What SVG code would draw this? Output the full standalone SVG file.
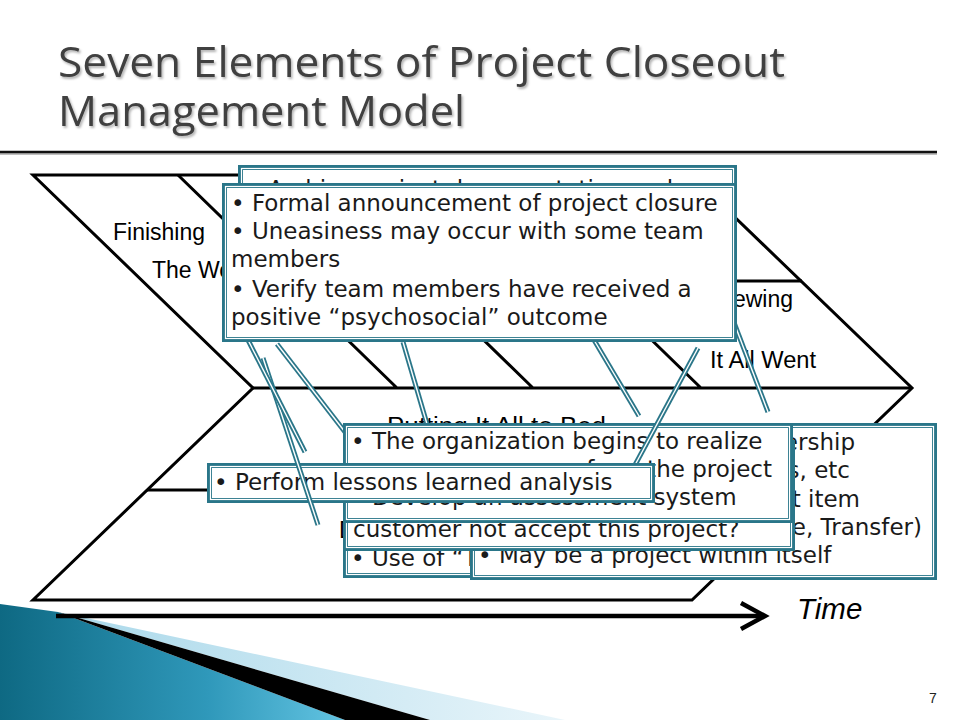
<svg xmlns="http://www.w3.org/2000/svg" width="960" height="720" viewBox="0 0 960 720">
<defs>
<style>
.fb{fill:none;stroke:#000;stroke-width:3;stroke-linejoin:miter}
.lb{font-family:"Liberation Sans",Arial,sans-serif;font-size:23px;fill:#000}
.co{font-family:"DejaVu Sans",sans-serif;font-size:23px;fill:#1a1a1a}
.bo{fill:#fff;stroke:#2a7689;stroke-width:5}
.bi{fill:none;stroke:#fff;stroke-width:1.2}
.tl{stroke:#2a7689;stroke-width:5;stroke-linecap:butt}
.tw{stroke:#fff;stroke-width:1.4}
.ttl{font-family:"Open Sans","Noto Sans",sans-serif;font-size:42px;fill:#404040}
</style>
<filter id="sh" x="-5%" y="-20%" width="110%" height="150%">
<feDropShadow dx="1.5" dy="2" stdDeviation="1" flood-color="#000" flood-opacity="0.3"/>
</filter>
<linearGradient id="tealg" x1="0" y1="0" x2="1" y2="0">
<stop offset="0" stop-color="#0e6983"/>
<stop offset="0.6" stop-color="#2f98ba"/>
<stop offset="1" stop-color="#63c4e2"/>
</linearGradient>
<linearGradient id="paleg" x1="0" y1="0" x2="1" y2="0">
<stop offset="0" stop-color="#a9d8ea"/>
<stop offset="1" stop-color="#e9f5fa"/>
</linearGradient>
</defs>
<rect width="960" height="720" fill="#fff"/>

<g id="title" filter="url(#sh)">
<text class="ttl" x="58" y="77" textLength="727" lengthAdjust="spacingAndGlyphs">Seven Elements of Project Closeout</text>
<text class="ttl" x="58" y="126" textLength="407" lengthAdjust="spacingAndGlyphs">Management Model</text>
</g>
<line x1="0" y1="154" x2="937" y2="154" stroke="#aaa" stroke-width="1.5"/>
<line x1="0" y1="152" x2="937" y2="152" stroke="#111" stroke-width="2.5"/>

<g id="fishbone">
<path class="fb" d="M33,175 H691 L912,388 L692,600 H33 L253,388 Z"/>
<path class="fb" d="M253,388 H912 M178,175 L397,388 M314,175 L533,388 M482,175 L701,388 M591,281 H802 M147,490 H806"/>
<text class="lb" x="113" y="240" textLength="92" lengthAdjust="spacingAndGlyphs">Finishing</text>
<text class="lb" x="152" y="278">The Work</text>
<text class="lb" x="793" y="307" text-anchor="end">Reviewing</text>
<text class="lb" x="710" y="368" textLength="106" lengthAdjust="spacingAndGlyphs">It All Went</text>
<text class="lb" x="387" y="434" textLength="219" lengthAdjust="spacingAndGlyphs">Putting It All to Bed</text>
<text class="lb" x="339" y="538">Disbanding the Team</text>
</g>

<g id="decoration">
<polygon points="0,604 58,612 345,720 0,720" fill="url(#tealg)"/>
<polygon points="58,612 565,720 430,720" fill="url(#paleg)"/>
<polygon points="58,612 430,720 345,720" fill="#000"/>
</g>

<g id="time-axis">
<line x1="56" y1="616" x2="763" y2="616" stroke="#000" stroke-width="4.5"/>
<polyline points="741,603 765,616 741,629" fill="none" stroke="#000" stroke-width="4.5" stroke-linejoin="miter"/>
<text x="797" y="619" font-family="'Liberation Sans',Arial,sans-serif" font-style="italic" font-size="29.5" fill="#000">Time</text>
</g>
<text id="page-number" x="929" y="703" font-family="'Liberation Sans',Arial,sans-serif" font-size="14" fill="#222">7</text>

<g id="callout-use-of">
<rect class="bo" x="345.5" y="472.5" width="272" height="103"/>
<rect class="bi" x="346.5" y="473.5" width="270" height="101"/>
<text class="co" x="351" y="566">• Use of “T</text>
</g>

<g id="callout-transfer">
<rect class="bo" x="472.5" y="425.5" width="462" height="152"/>
<rect class="bi" x="473.5" y="426.5" width="460" height="150"/>
<text class="co" x="855" y="450" text-anchor="end">ership</text>
<text class="co" x="850" y="478" text-anchor="end">s, etc</text>
<text class="co" x="860" y="507" text-anchor="end">t item</text>
<text class="co" x="922" y="535" text-anchor="end">e, Transfer)</text>
<text class="co" x="478" y="563">• May be a project within itself</text>
</g>

<g id="callout-customer">
<rect class="bo" x="345.5" y="442.5" width="447" height="106"/>
<rect class="bi" x="346.5" y="443.5" width="445" height="104"/>
<text class="co" x="353" y="537">customer not accept this project?</text>
</g>

<g id="connectors-a" class="connectors">
<line class="tl" x1="277" y1="344" x2="345" y2="432"/><line class="tw" x1="277" y1="344" x2="345" y2="432"/>
<line class="tl" x1="403" y1="342" x2="427" y2="424"/><line class="tw" x1="403" y1="342" x2="427" y2="424"/>
</g>

<g id="callout-organization">
<rect class="bo" x="345.5" y="425.5" width="445" height="95"/>
<rect class="bi" x="346.5" y="426.5" width="443" height="93"/>
<text class="co" x="351" y="449">• The organization begins to realize</text>
<text class="co" x="772" y="477" text-anchor="end">from the project</text>
<text class="co" x="351" y="505">• Develop an assessment system</text>
</g>

<g id="connectors-b" class="connectors">
<line class="tl" x1="698" y1="348" x2="635" y2="465"/><line class="tw" x1="698" y1="348" x2="635" y2="465"/>
</g>

<g id="callout-lessons">
<rect class="bo" x="209.5" y="465.5" width="443" height="35"/>
<rect class="bi" x="210.5" y="466.5" width="441" height="33"/>
<text class="co" x="214" y="490">• Perform lessons learned analysis</text>
</g>

<g id="connectors-c" class="connectors">
<line class="tl" x1="263" y1="358" x2="318" y2="525"/><line class="tw" x1="263" y1="358" x2="318" y2="525"/>
<line class="tl" x1="248" y1="340" x2="305" y2="452"/><line class="tw" x1="248" y1="340" x2="305" y2="452"/>
<line class="tl" x1="594" y1="340" x2="639" y2="416"/><line class="tw" x1="594" y1="340" x2="639" y2="416"/>
<line class="tl" x1="733" y1="320" x2="768" y2="412"/><line class="tw" x1="733" y1="320" x2="768" y2="412"/>
</g>

<g id="callout-archive">
<rect class="bo" x="240.5" y="167.5" width="494" height="130"/>
<rect class="bi" x="241.5" y="168.5" width="492" height="128"/>
<text class="co" x="247" y="197">• Archive project documentation and</text>
</g>

<g id="callout-announcement">
<rect class="bo" x="224.5" y="185.5" width="510" height="154"/>
<rect class="bi" x="225.5" y="186.5" width="508" height="152"/>
<text class="co" x="231" y="211">• Formal announcement of project closure</text>
<text class="co" x="231" y="239">• Uneasiness may occur with some team</text>
<text class="co" x="231" y="267">members</text>
<text class="co" x="231" y="297">• Verify team members have received a</text>
<text class="co" x="231" y="325">positive “psychosocial” outcome</text>
</g>
</svg>
